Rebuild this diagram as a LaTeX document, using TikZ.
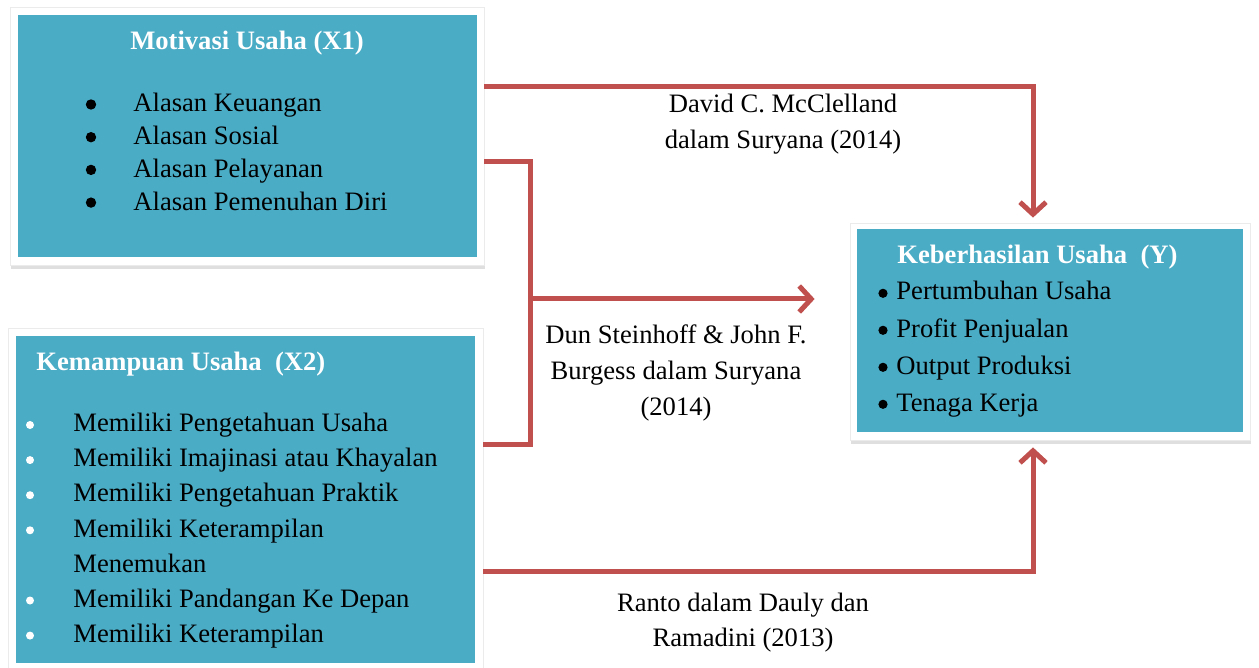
\documentclass[tikz,border=0pt]{standalone}
\usepackage{fontspec}
\setmainfont{Liberation Serif}
\usepackage{tikz}
\usetikzlibrary{arrows.meta}
\usetikzlibrary{shadows}
\definecolor{boxteal}{HTML}{4BACC6}
\definecolor{linkred}{HTML}{C0504D}
\tikzset{whiteframe/.style = {rectangle, fill = white, draw = black!8, line width = 0.4pt,
                              inner sep = 0pt,
                              drop shadow = {shadow xshift = 0.4pt, shadow yshift = -2pt,
                                             opacity = 0.25}},
         tealbox/.style = {rectangle, fill = boxteal, inner sep = 0pt},
         heading/.style = {font = \fontsize{13.3}{16}\selectfont\bfseries, text = white,
                           inner sep = 0pt, anchor = base west},
         item/.style = {font = \fontsize{13.3}{16}\selectfont, inner sep = 0pt,
                        anchor = base west},
         blackdot/.style = {circle, fill = black, inner sep = 0pt},
         whitedot/.style = {circle, fill = white, inner sep = 0pt, minimum size = 4pt},
         link/.style = {draw = linkred, line width = 2.5pt},
         linkarrow/.style = {link, -{Straight Barb[length = 6pt, width = 13pt]}},
         source/.style = {font = \fontsize{13.3}{18}\selectfont, align = center,
                          inner sep = 0pt}}

\begin{document}
\begin{tikzpicture}[x = 0.5pt, y = -0.5pt]
    \useasboundingbox (0, 0) rectangle (1259, 668);
    % boxes
    \node [whiteframe, minimum width = 237pt, minimum height = 129pt] (motivFrame) at (247, 136) {};
    \node [tealbox, minimum width = 229.5pt, minimum height = 121pt] (motiv) at (247.5, 136) {};
    \node [whiteframe, minimum width = 237.5pt, minimum height = 172pt] (mampuFrame) at (245.5, 500) {};
    \node [tealbox, minimum width = 229.5pt, minimum height = 163.5pt] (mampu) at (245.5, 499.5) {};
    \node [whiteframe, minimum width = 200pt, minimum height = 108.5pt] (hasilFrame) at (1050, 331.5) {};
    \node [tealbox, minimum width = 193pt, minimum height = 101.5pt] (hasil) at (1050, 330.5) {};
    % titles
    \node [heading, anchor = base] (motivTitle) at (247, 50) {Motivasi Usaha (X1)};
    \node [heading] (mampuTitle) at (36, 371) {Kemampuan Usaha \ (X2)};
    \node [heading] (hasilTitle) at (897, 263.3) {Keberhasilan Usaha \ (Y)};
    % lists
    \foreach \txt [count = \i] in {Alasan Keuangan, Alasan Sosial, Alasan Pelayanan, Alasan Pemenuhan Diri} {
      \node [item] (motivItem\i) at (133, {112 + 32.7*(\i - 1)}) {\txt};
      \node [blackdot, minimum size = 5.2pt] (motivDot\i) at (91, {104.5 + 32.7*(\i - 1)}) {};
    }
    \foreach \txt/\k in {Memiliki Pengetahuan Usaha/0, Memiliki Imajinasi atau Khayalan/1,
                         Memiliki Pengetahuan Praktik/2, Memiliki Keterampilan/3,
                         Memiliki Pandangan Ke Depan/5, Memiliki Keterampilan/6} {
      \node [item] (mampuItem\k) at (73, {431.7 + 35.1*\k}) {\txt};
      \node [whitedot] (mampuDot\k) at (30, {425 + 35.1*\k}) {};
    }
    \node [item] (mampuItem4) at (73, {431.7 + 35.1*4}) {Menemukan};
    \foreach \txt [count = \i] in {Pertumbuhan Usaha, Profit Penjualan, Output Produksi, Tenaga Kerja} {
      \node [item] (hasilItem\i) at (896, {300 + 37*(\i - 1)}) {\txt};
      \node [blackdot, minimum size = 4.6pt] (hasilDot\i) at (883, {293.3 + 37*(\i - 1)}) {};
    }
    % connectors
    \coordinate (join) at (530, 299);
    \draw [linkarrow] ([yshift = 24.5pt] motivFrame.east) -| ([xshift = -8.5pt, yshift = 2.5pt] hasilFrame.north);
    \draw [link] ([yshift = -13pt] motivFrame.east) -| (join) |- ([yshift = 28pt] mampuFrame.east);
    \draw [linkarrow] (join) -- ([xshift = -17.5pt] hasilFrame.west |- join);
    \draw [linkarrow] ([yshift = -35.5pt] mampuFrame.east) -| ([xshift = -8.5pt, yshift = -3.5pt] hasilFrame.south);
    % sources
    \node [source] (mcc) at (783, 124) {David C. McClelland\\dalam Suryana (2014)};
    \node [source] (dun) at (676, 373) {Dun Steinhoff \& John F.\\Burgess dalam Suryana\\(2014)};
    \node [source, font = \fontsize{13.3}{17.5}\selectfont] (ranto) at (743, 622.5) {Ranto dalam Dauly dan\\Ramadini (2013)};
\end{tikzpicture}
\end{document}
